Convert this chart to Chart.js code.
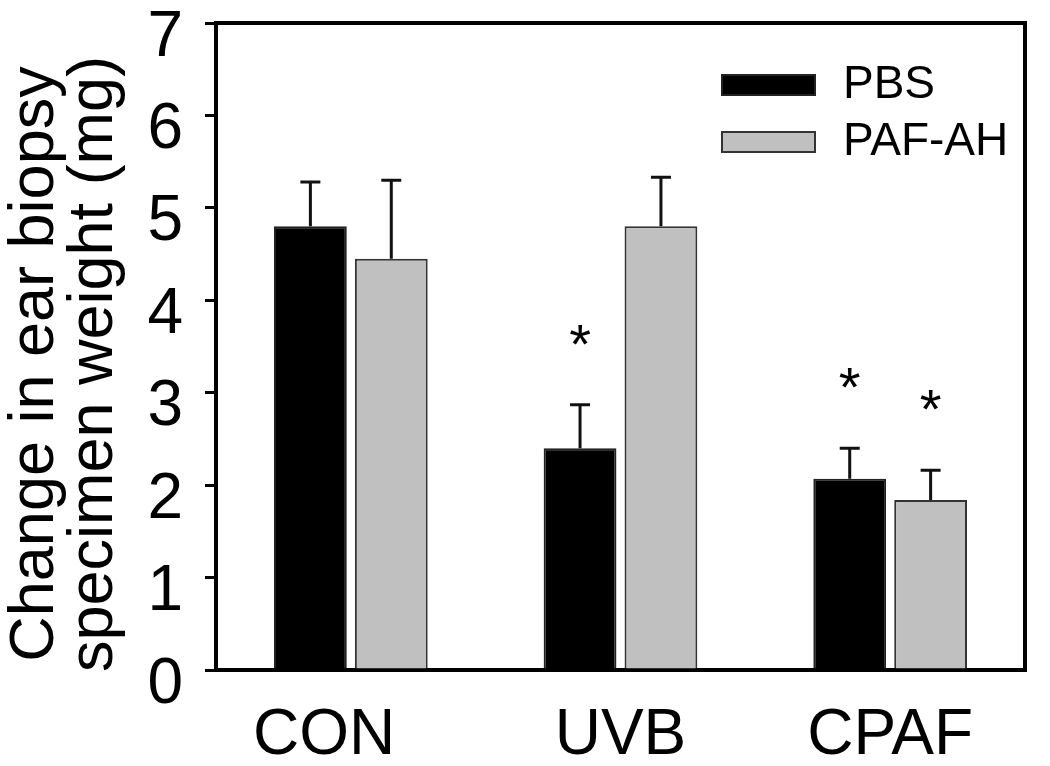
<!DOCTYPE html>
<html lang="en">
<head>
    <meta charset="UTF-8">
    <title>Ear biopsy weight</title>
    <script src="https://cdn.jsdelivr.net/npm/chart.js"></script>
    <style>
        html, body { margin: 0; padding: 0; background: #fff; }
        .chart-container { position: relative; width: 1050px; height: 766px; }
    </style>
</head>
<body>
    <div class="chart-container">
        <canvas id="myChart"></canvas>
    </div>

    <script>
        // data
        const categories = ['CON', 'UVB', 'CPAF'];
        const pbsValues = [4.8, 2.4, 2.07];
        const pbsErrors = [0.48, 0.47, 0.33];
        const pafahValues = [4.45, 4.8, 1.84];
        const pafahErrors = [0.85, 0.53, 0.32];
        // bars marked with *
        const pbsSignif = [false, true, true];
        const pafahSignif = [false, false, true];
        const yTicks = [0, 1, 2, 3, 4, 5, 6, 7];

        const FONT = "'Liberation Sans', Arial, sans-serif";
        Chart.defaults.font.family = FONT;
        Chart.defaults.color = '#000';

        // upper error bars and significance stars
        const errorBars = {
            id: 'errorBars',
            afterDatasetsDraw(chart) {
                const ctx = chart.ctx;
                const y = chart.scales.y;
                ctx.save();
                chart.data.datasets.forEach((ds, di) => {
                    const meta = chart.getDatasetMeta(di);
                    meta.data.forEach((bar, i) => {
                        const top = y.getPixelForValue(ds.data[i] + ds.errors[i]);
                        ctx.strokeStyle = '#111';
                        ctx.lineWidth = 3;
                        ctx.beginPath();
                        ctx.moveTo(bar.x, bar.y);
                        ctx.lineTo(bar.x, top);
                        ctx.moveTo(bar.x - 10, top);
                        ctx.lineTo(bar.x + 10, top);
                        ctx.stroke();
                        if (ds.signif[i]) {
                            ctx.fillStyle = '#000';
                            ctx.font = '56px ' + FONT;
                            ctx.textAlign = 'center';
                            ctx.textBaseline = 'alphabetic';
                            const m = ctx.measureText('*');
                            const mid = (m.actualBoundingBoxAscent - m.actualBoundingBoxDescent) / 2;
                            ctx.fillText('*', bar.x, top - 70 + mid);
                        }
                    });
                });
                ctx.restore();
            }
        };

        // top and right frame lines + legend inside the plot
        const frameAndLegend = {
            id: 'frameAndLegend',
            afterDraw(chart) {
                const ctx = chart.ctx;
                const a = chart.chartArea;
                ctx.save();
                ctx.strokeStyle = '#000';
                ctx.lineWidth = 4;
                ctx.beginPath();
                ctx.moveTo(a.left - 2, a.top);
                ctx.lineTo(a.right, a.top);
                ctx.lineTo(a.right, a.bottom + 2);
                ctx.stroke();

                const boxX = a.right - 303;
                chart.data.datasets.forEach((ds, i) => {
                    const cy = a.top + 62 + i * 57;
                    ctx.fillStyle = ds.backgroundColor;
                    ctx.fillRect(boxX, cy - 10, 93, 20);
                    ctx.strokeStyle = ds.borderColor;
                    ctx.lineWidth = 2;
                    ctx.strokeRect(boxX, cy - 10, 93, 20);
                    ctx.fillStyle = '#000';
                    ctx.font = '46px ' + FONT;
                    ctx.textAlign = 'left';
                    ctx.textBaseline = 'middle';
                    ctx.fillText(ds.label, boxX + 121, cy);
                });
                ctx.restore();
            }
        };

        const ctx = document.getElementById('myChart').getContext('2d');
        const chart = new Chart(ctx, {
            type: 'bar',
            data: {
                labels: categories,
                datasets: [{
                    label: 'PBS',
                    data: pbsValues,
                    errors: pbsErrors,
                    signif: pbsSignif,
                    backgroundColor: '#000000',
                    borderColor: '#222222',
                    borderWidth: 2
                }, {
                    label: 'PAF-AH',
                    data: pafahValues,
                    errors: pafahErrors,
                    signif: pafahSignif,
                    backgroundColor: '#c0c0c0',
                    borderColor: '#333333',
                    borderWidth: 2
                }]
            },
            options: {
                responsive: true,
                maintainAspectRatio: false,
                animation: false,
                categoryPercentage: 0.6,
                barPercentage: 0.9,
                layout: { padding: { top: 23, right: 25, left: 0, bottom: 0 }, autoPadding: false },
                plugins: {
                    legend: { display: false },
                    tooltip: { enabled: false }
                },
                scales: {
                    x: {
                        grid: { display: false },
                        border: { color: '#000', width: 4 },
                        ticks: {
                            font: { size: 64 },
                            color: '#000',
                            padding: 20,
                            // CON sits a little left of its bars in the original
                            callback: (v, i) => categories[i] + (i === 0 ? '   ' : '')
                        },
                        afterFit: s => { s.height = 96; s.paddingLeft = 0; s.paddingRight = 0; }
                    },
                    y: {
                        min: 0,
                        max: 7,
                        afterBuildTicks: s => { s.ticks = yTicks.map(v => ({ value: v })); },
                        ticks: { font: { size: 64 }, color: '#000', padding: 22, labelOffset: 15 },
                        grid: { drawOnChartArea: false, tickLength: 11, lineWidth: 3, color: '#000' },
                        border: { color: '#000', width: 4 },
                        title: {
                            display: true,
                            text: ['Change in ear biopsy  ', 'specimen weight (mg)  '],
                            font: { size: 63, lineHeight: 0.94 },
                            color: '#000',
                            padding: { top: 6, bottom: 0 }
                        },
                        afterFit: s => { s.width = 216; s.paddingTop = 0; s.paddingBottom = 0; }
                    }
                }
            },
            plugins: [errorBars, frameAndLegend]
        });
    </script>
</body>
</html>
